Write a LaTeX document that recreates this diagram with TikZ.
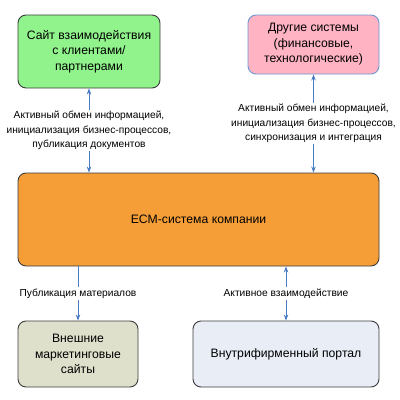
\documentclass[tikz,border=0pt]{standalone}
\usepackage{fontspec}
\setmainfont{Liberation Sans}
\usetikzlibrary{arrows.meta}
\definecolor{boxgreen}{HTML}{90F38C}
\definecolor{boxpink}{HTML}{FFB3C3}
\definecolor{boxorange}{HTML}{F59E38}
\definecolor{boxbeige}{HTML}{DFE0CB}
\definecolor{boxblue}{HTML}{E8EDF6}
\definecolor{linkblue}{HTML}{4A7CC4}
\definecolor{rimgray}{HTML}{3C3C3C}

\begin{document}
\begin{tikzpicture}[x=1pt,y=-1pt,
    unit/.style={draw=rimgray, line width=0.9pt, rounded corners=8pt, align=center,
                 font=\fontsize{12.2}{15.5}\selectfont, inner sep=2pt},
    link/.style={draw=linkblue, line width=0.7pt, >={Stealth[length=6pt,width=4.5pt]}},
    linklabel/.style={fill=white, align=center, inner sep=1.5pt,
                      font=\fontsize{10.2}{14.5}\selectfont}]
  \useasboundingbox (0,0) rectangle (400,400);

  \node[unit, fill=boxgreen, minimum width=142pt, minimum height=73pt] (site) at (89,51.5)
    {Сайт взаимодействия\\с клиентами/\\партнерами};
  \node[unit, fill=boxpink, draw=linkblue!80, minimum width=131pt, minimum height=59pt] (other) at (313.5,44.5)
    {Другие системы\\(финансовые,\\технологические)};
  \node[unit, fill=boxorange, minimum width=361pt, minimum height=93pt] (ecm) at (198.5,219.5)
    {ECM-система компании};
  \node[unit, fill=boxbeige, minimum width=120pt, minimum height=66pt] (ext) at (78,354)
    {Внешние\\маркетинговые\\сайты};
  \node[unit, fill=boxblue, minimum width=186pt, minimum height=66pt] (portal) at (286,354)
    {Внутрифирменный портал};

  % links
  \draw[link, <->] (site.south) -- (site.south |- ecm.north)
    node[midway, linklabel] {Активный обмен информацией,\\инициализация бизнес-процессов,\\публикация документов};
  \draw[link, <->] (other.south) -- (other.south |- ecm.north)
    node[midway, linklabel] {Активный обмен информацией,\\инициализация бизнес-процессов,\\синхронизация и интеграция};
  \draw[link, ->] (ext.north |- ecm.south) -- (ext.north)
    node[midway, linklabel] {Публикация материалов};
  \draw[link, <->] (portal.north |- ecm.south) -- (portal.north)
    node[midway, linklabel] {Активное взаимодействие};
\end{tikzpicture}
\end{document}
